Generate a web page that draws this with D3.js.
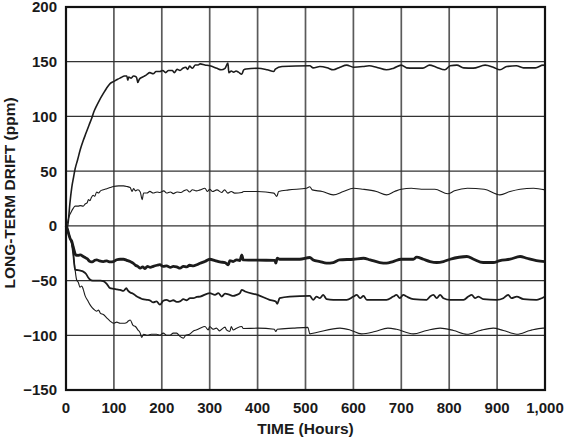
<!DOCTYPE html>
<html lang="en">
  <head>
    <meta charset="UTF-8" />
    <title>Long-Term Drift vs Time</title>
    <script src="https://d3js.org/d3.v7.min.js"></script>
    <style>
      body {
        margin: 0;
        background: #fff;
      }
      svg text {
        font-family: 'Liberation Sans', Arial, sans-serif;
        font-weight: bold;
        fill: #1a1a1a;
      }
      .tick-label {
        font-size: 15px;
      }
      .axis-label {
        font-size: 15.5px;
      }
    </style>
  </head>
  <body>
    <svg width="567" height="440"></svg>

    <script>
      // ticks
      const xTicks = [0, 100, 200, 300, 400, 500, 600, 700, 800, 900, 1000];
      const xTickLabels = ['0', '100', '200', '300', '400', '500', '600', '700', '800', '900', '1,000'];
      const yTicks = [-150, -100, -50, 0, 50, 100, 150, 200];
      const yTickLabels = ['\u2212150', '\u2212100', '\u221250', '0', '50', '100', '150', '200'];

      // [hours, ppm]
      const driftA = [
        [0, 0], [2, -3], [5, 5], [8, 20], [12, 35], [16, 45], [19, 52], [24, 60], [30, 70],
        [36, 78], [42, 85], [48, 92], [55, 100], [58, 104], [62, 108], [70, 115], [78, 121],
        [85, 126], [92, 130], [100, 132], [108, 134], [115, 135.5], [122, 137], [127, 137],
        [129, 133], [131, 136], [136, 135], [141, 137], [147, 136], [150, 131], [153, 134],
        [160, 136], [168, 138], [175, 140], [182, 139], [188, 141], [196, 141], [202, 142],
        [208, 140], [214, 142], [222, 142], [226, 140], [232, 143], [238, 142], [244, 144],
        [250, 145], [254, 143], [258, 146], [264, 144], [270, 147], [276, 147], [280, 148],
        [290, 147], [300, 146.3], [315, 144], [324, 142.6], [332, 144], [338, 148.7], [340, 140],
        [345, 141.5], [350, 140.5], [355, 141.5], [360, 140.5], [367, 138.6], [371, 142.6],
        [376, 143.3], [400, 144], [420, 142.6], [434, 141], [437, 143.3], [451, 145.6],
        [509, 146.3], [516, 144.4], [530, 145.6], [545, 144.5], [558, 142.6], [572, 145],
        [586, 146.9], [600, 145], [620, 145.6], [633, 146.3], [648, 145], [669, 142.6],
        [684, 144.1], [700, 146.9], [711, 144.4], [725, 144.1], [745, 144.1], [759, 146.9],
        [773, 145], [791, 142.6], [802, 146.3], [816, 146.9], [830, 144.4], [850, 144.1],
        [875, 146.9], [892, 145], [906, 142.6], [920, 145.6], [940, 146.3], [955, 144.4],
        [980, 144.4], [996, 146.9], [1000, 146.5],
      ];

      const driftB = [
        [0, 0], [3, 3], [6, 8], [10, 12], [15, 16], [19, 18], [25, 18], [30, 18.5], [36, 18],
        [40, 20], [44, 21], [47, 24], [50, 23], [53, 26], [57, 28], [60, 27], [64, 31], [68, 30],
        [72, 32], [78, 33], [85, 34], [92, 35], [99, 36], [110, 36.5], [120, 36.5], [127, 36],
        [134, 35], [138, 31.5], [141, 34], [145, 32], [150, 33], [155, 31], [159, 24], [162, 30],
        [169, 30], [175, 31.5], [182, 30], [190, 31], [196, 30.5], [204, 32], [210, 30],
        [218, 31], [224, 29.5], [232, 31], [240, 30.5], [246, 32], [252, 33], [258, 31],
        [264, 33], [272, 32], [280, 32.9], [290, 34.4], [295, 31.4], [300, 33.5], [306, 31.4],
        [315, 32.9], [325, 30.5], [331, 32.9], [338, 29.9], [345, 31.4], [352, 29.9], [367, 30.5],
        [371, 31.4], [400, 31.4], [434, 29.9], [440, 26.8], [444, 31.4], [465, 32.9], [502, 34.4],
        [509, 35.8], [514, 32.9], [535, 31.4], [558, 28.3], [579, 31.4], [600, 34.4], [620, 33.5],
        [648, 31.4], [669, 28.3], [686, 31.4], [700, 33.5], [721, 34.4], [742, 33.5], [770, 33.5],
        [797, 29.3], [811, 32], [838, 34.4], [873, 33.5], [906, 28.3], [927, 31.4], [948, 33.5],
        [976, 34.4], [1000, 32.9],
      ];

      const driftC = [
        [0, 0], [3, -3], [6, -8], [9, -12], [12, -14], [15, -19], [18, -24], [20, -26.5],
        [25, -27], [30, -26.5], [36, -28], [40, -29], [44, -30], [50, -32.6], [55, -33],
        [60, -31.5], [64, -31], [70, -32], [78, -32.6], [85, -32], [92, -33], [99, -32.6],
        [106, -31], [113, -30.5], [120, -30.5], [127, -31.5], [134, -32.6], [140, -34],
        [145, -36], [150, -37], [155, -38.6], [160, -37.5], [165, -39], [170, -37], [176, -38],
        [182, -37], [190, -36], [196, -35.5], [203, -37], [210, -36.5], [218, -38], [224, -37],
        [231, -37.5], [238, -38.7], [245, -37], [252, -37.5], [258, -36], [266, -36.5],
        [273, -35.5], [280, -34.1], [290, -32.6], [300, -30.5], [311, -31.7], [321, -33],
        [332, -33.5], [339, -35.6], [342, -31.7], [349, -32.6], [356, -31.1], [363, -31.7],
        [367, -26.5], [370, -31.1], [400, -31.4], [436, -31.5], [438, -34.1], [441, -29.6],
        [446, -30.5], [488, -30.5], [509, -28.9], [516, -31.1], [530, -32.6], [544, -34.1],
        [558, -33.5], [571, -31.1], [600, -30.5], [621, -29.6], [635, -31.1], [655, -33.5],
        [669, -34.1], [683, -32.6], [700, -30.5], [725, -30.5], [732, -28.5], [746, -30.5],
        [760, -32.6], [774, -33.5], [788, -32.6], [802, -30.5], [837, -28], [851, -30.5],
        [871, -33.5], [892, -33.5], [906, -31.7], [927, -30.5], [948, -28], [962, -29.6],
        [982, -31.7], [1000, -32.6],
      ];

      const driftD = [
        [0, 0], [3, -3], [6, -8], [9, -12], [12, -16], [15, -25], [19, -40], [25, -40.5],
        [30, -41], [36, -41.8], [42, -44], [46, -47], [50, -49], [56, -50], [64, -50], [72, -50],
        [78, -50.5], [85, -53], [92, -57], [100, -57.5], [106, -58], [113, -58.5], [120, -59.5],
        [126, -57], [129, -59], [134, -61], [140, -62], [148, -64.6], [155, -66], [160, -67],
        [169, -67.6], [175, -68], [182, -70], [189, -69], [196, -72], [203, -68.5], [210, -67.6],
        [217, -69], [224, -68], [231, -69.5], [238, -69], [245, -67], [252, -68], [259, -66],
        [266, -66], [273, -65], [280, -64.6], [300, -61.5], [311, -63.1], [318, -61.5],
        [325, -64.6], [332, -62], [342, -63.1], [349, -64], [356, -63.1], [363, -61.5],
        [367, -58.5], [374, -60], [400, -63.1], [425, -67.6], [438, -69.2], [441, -71.3],
        [446, -66.1], [467, -64.6], [509, -64], [516, -67.6], [523, -64.6], [530, -66.1],
        [537, -63.1], [544, -67], [558, -67.6], [586, -67.6], [600, -64.6], [607, -63.1],
        [614, -66.1], [621, -64], [628, -67.6], [669, -67.6], [683, -64.6], [690, -63.1],
        [697, -66.1], [704, -63.1], [711, -64.6], [725, -67], [753, -67.6], [760, -64.6],
        [767, -63.1], [774, -66.1], [781, -63.1], [788, -66.1], [802, -67.6], [830, -67.6],
        [840, -64.6], [847, -63.1], [854, -66.1], [861, -64.6], [871, -67], [899, -67.6],
        [913, -66.1], [923, -63.1], [930, -66.1], [941, -64.6], [955, -67], [982, -67.6],
        [1000, -64.6],
      ];

      const driftE = [
        [0, 0], [3, -3], [6, -8], [9, -12], [12, -16], [15, -25], [19, -40], [22, -49],
        [26, -52], [29, -56], [33, -55], [36, -58], [40, -64], [45, -68], [50, -72], [55, -75],
        [60, -77], [64, -78], [68, -77], [72, -80], [78, -81], [85, -84], [92, -87], [99, -89],
        [106, -88], [113, -89], [120, -89], [126, -88.5], [130, -87], [134, -86], [140, -91],
        [145, -92], [150, -95], [155, -98], [158, -102], [162, -99], [170, -100], [178, -99],
        [189, -99], [196, -100], [203, -98], [210, -100], [217, -100], [224, -98], [231, -98],
        [238, -101], [245, -102.6], [250, -100], [258, -99], [266, -96], [273, -95],
        [280, -93.5], [290, -92], [297, -95.1], [300, -92], [307, -94.5], [314, -93.5],
        [321, -96], [325, -94.5], [332, -92.5], [335, -95.1], [342, -96.6], [345, -92],
        [349, -95.1], [356, -93.5], [367, -92], [370, -93.8], [400, -93.5], [435, -94.5],
        [438, -96.6], [441, -94.5], [474, -93.5], [505, -92.8], [509, -98.7], [523, -97.5],
        [572, -93.5], [593, -95.1], [617, -98.7], [645, -96.6], [672, -93.5], [690, -94.5],
        [725, -98.7], [753, -95.6], [781, -93.5], [809, -95.6], [837, -99], [865, -95.6],
        [892, -93.5], [913, -95.6], [941, -99], [969, -95.6], [996, -93.5], [1000, -93.5],
      ];

      const series = [
        { values: driftA, width: 1.6 },
        { values: driftB, width: 1.1 },
        { values: driftC, width: 2.8 },
        { values: driftD, width: 1.8 },
        { values: driftE, width: 1.1 },
      ];

      const svg = d3.select('svg');
      const plotLeft = 66,
        plotRight = 545,
        plotTop = 7,
        plotBottom = 390;

      const x = d3.scaleLinear().domain([0, 1000]).range([plotLeft, plotRight]);
      const y = d3.scaleLinear().domain([-150, 200]).range([plotBottom, plotTop]);

      // grid
      svg
        .append('g')
        .selectAll('line')
        .data(xTicks.slice(1, -1))
        .join('line')
        .attr('x1', (d) => x(d))
        .attr('x2', (d) => x(d))
        .attr('y1', plotTop)
        .attr('y2', plotBottom)
        .attr('stroke', '#5a5a5a')
        .attr('stroke-width', 1.7);

      svg
        .append('g')
        .selectAll('line')
        .data(yTicks.slice(1, -1))
        .join('line')
        .attr('x1', plotLeft)
        .attr('x2', plotRight)
        .attr('y1', (d) => y(d))
        .attr('y2', (d) => y(d))
        .attr('stroke', '#333')
        .attr('stroke-width', 1.2);

      // curves
      const line = d3
        .line()
        .x((d) => x(d[0]))
        .y((d) => y(d[1]))
        .curve(d3.curveMonotoneX);

      svg
        .append('g')
        .selectAll('path')
        .data(series)
        .join('path')
        .attr('d', (d) => line(d.values))
        .attr('fill', 'none')
        .attr('stroke', '#1c1c1c')
        .attr('stroke-width', (d) => d.width)
        .attr('stroke-linejoin', 'round');

      // frame
      svg
        .append('rect')
        .attr('x', plotLeft)
        .attr('y', plotTop)
        .attr('width', plotRight - plotLeft)
        .attr('height', plotBottom - plotTop)
        .attr('fill', 'none')
        .attr('stroke', '#111')
        .attr('stroke-width', 2.2);

      // tick labels
      svg
        .append('g')
        .selectAll('text')
        .data(xTicks)
        .join('text')
        .attr('class', 'tick-label')
        .attr('x', (d) => x(d))
        .attr('y', 413)
        .attr('text-anchor', 'middle')
        .text((d, i) => xTickLabels[i]);

      svg
        .append('g')
        .selectAll('text')
        .data(yTicks)
        .join('text')
        .attr('class', 'tick-label')
        .attr('x', 57)
        .attr('y', (d) => y(d))
        .attr('dy', '0.36em')
        .attr('text-anchor', 'end')
        .text((d, i) => yTickLabels[i]);

      // axis titles
      svg
        .append('text')
        .attr('class', 'axis-label')
        .attr('x', (plotLeft + plotRight) / 2)
        .attr('y', 434)
        .attr('text-anchor', 'middle')
        .text('TIME (Hours)');

      svg
        .append('text')
        .attr('class', 'axis-label')
        .attr('transform', 'rotate(-90)')
        .attr('x', -193)
        .attr('y', 15)
        .attr('text-anchor', 'middle')
        .text('LONG-TERM DRIFT (ppm)');
    </script>
  </body>
</html>
